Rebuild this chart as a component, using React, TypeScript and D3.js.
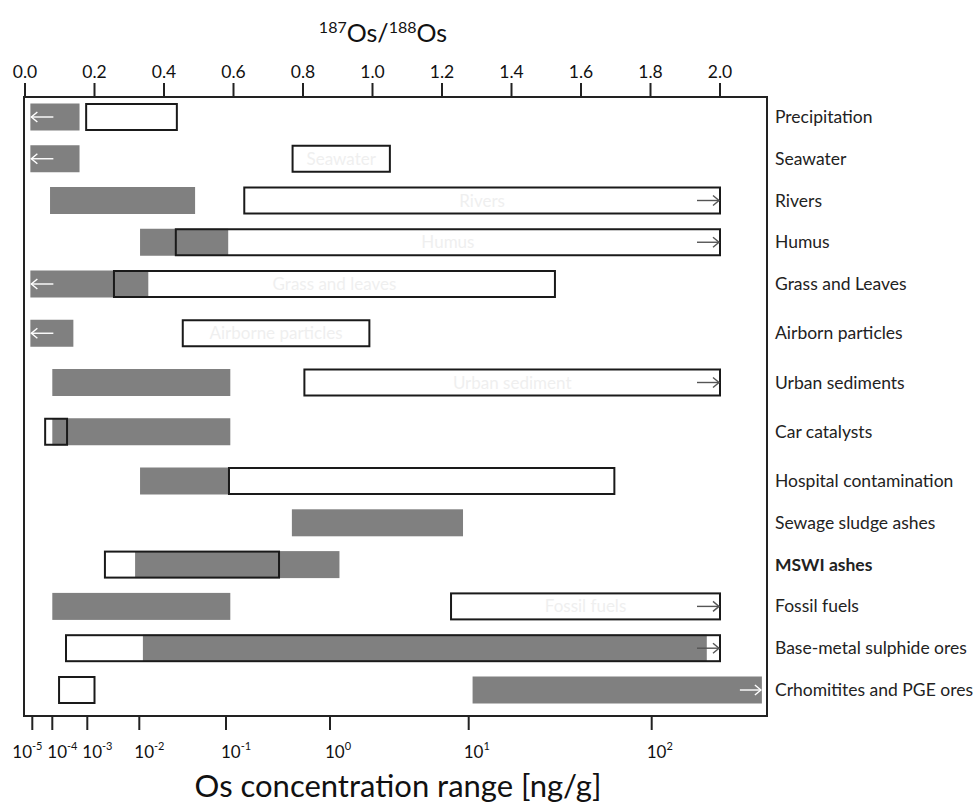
import React from "react";
import * as d3 from "d3";

const categories = [
  "Precipitation",
  "Seawater",
  "Rivers",
  "Humus",
  "Grass and Leaves",
  "Airborn particles",
  "Urban sediments",
  "Car catalysts",
  "Hospital contamination",
  "Sewage sludge ashes",
  "MSWI ashes",
  "Fossil fuels",
  "Base-metal sulphide ores",
  "Crhomitites and PGE ores",
];
const boldCategories = ["MSWI ashes"];

// Os concentration range [ng/g] (grey bars)
const concLow = [8e-6, 8e-6, 7.7e-5, 0.0102, 8e-6, 8e-6, 1e-4, 1e-4, 0.0102, 0.43, 0.0083, 1e-4, 0.011, 10.5];
const concHigh = [6e-4, 6e-4, 0.044, 0.105, 0.0127, 4e-4, 0.11, 0.11, 0.105, 9.1, 1.17, 0.11, 200, 400];
const concArrow = ["left", "left", "", "", "left", "left", "", "", "", "", "", "", "", "right"];

// 187Os/188Os ranges (open boxes)
const ratioLow = [0.176, 0.77, 0.631, 0.434, 0.256, 0.454, 0.804, 0.058, 0.587, null, 0.23, 1.226, 0.118, 0.098];
const ratioHigh = [0.437, 1.05, 2.0, 2.0, 1.525, 0.991, 2.0, 0.121, 1.696, null, 0.731, 2.0, 2.0, 0.2];
const ratioArrow = ["", "", "right", "right", "", "", "right", "", "", "", "", "right", "right", ""];
const ratioInnerLabel = ["", "Seawater", "Rivers", "Humus", "Grass and leaves", "Airborne particles", "Urban sediment", "", "", "", "", "Fossil fuels", "", ""];

const ratioTicks = [0, 0.2, 0.4, 0.6, 0.8, 1.0, 1.2, 1.4, 1.6, 1.8, 2.0];
const concTickExponents = [-5, -4, -3, -2, -1, 0, 1, 2];

const FONT = "Lato, 'Open Sans', sans-serif";

export default function App() {
  const W = 978;
  const H = 805;
  const frame = { left: 24, right: 767, top: 97, bottom: 716 };

  const ratioX = d3.scaleLinear().domain([0, 2]).range([25, 720]);
  // hand-drawn non-uniform log axis: piecewise linear in log10 space
  const expX = d3
    .scaleLinear()
    .domain(concTickExponents)
    .range([32.3, 52.3, 87.3, 139.3, 226, 330, 468.7, 651.7]);
  const concX = (v: number) => expX(Math.log10(v));
  const rowY = d3.scaleLinear().domain([0, 4, 8, 13]).range([117, 284, 481, 690]);

  const barH = 27;
  const boxH = 26;

  // bottom tick labels: start just left of the tick, pushed left when they would collide
  const labelW = 33;
  const labelStarts: number[] = concTickExponents.map((e) => expX(e) - 5);
  for (let i = labelStarts.length - 2; i >= 0; i--) {
    const maxStart = labelStarts[i + 1] - labelW - 2;
    if (labelStarts[i] > maxStart) labelStarts[i] = maxStart;
  }

  const arrow = (x1: number, x2: number, y: number, dir: string, color: string, key: string) => {
    const tip = dir === "right" ? x2 : x1;
    const s = dir === "right" ? -1 : 1;
    return (
      <g key={key} stroke={color} strokeWidth={1.4} fill="none">
        <line x1={x1} x2={x2} y1={y} y2={y} />
        <path d={`M${tip + s * 6},${y - 5} L${tip},${y} L${tip + s * 6},${y + 5}`} />
      </g>
    );
  };

  return (
    <svg
      width={W}
      height={H}
      style={{ position: "absolute", left: 0, top: 0, background: "#fff" }}
      fontFamily={FONT}
    >
      {/* top title */}
      <text x={383} y={42} textAnchor="middle" fontSize={25} fill="#111">
        <tspan fontSize={16} dy={-9}>187</tspan>
        <tspan dy={9}>Os/</tspan>
        <tspan fontSize={16} dy={-9}>188</tspan>
        <tspan dy={9}>Os</tspan>
      </text>

      {/* top axis */}
      {ratioTicks.map((t) => (
        <g key={"rt" + t}>
          <line x1={ratioX(t)} x2={ratioX(t)} y1={frame.top - 14} y2={frame.top} stroke="#222" strokeWidth={2} />
          <text x={ratioX(t)} y={78} textAnchor="middle" fontSize={17.5} fill="#111">
            {d3.format(".1f")(t)}
          </text>
        </g>
      ))}

      {/* grey concentration bars */}
      {categories.map((c, i) => {
        const x1 = concX(concLow[i]);
        const x2 = concX(concHigh[i]);
        const y = rowY(i);
        return (
          <g key={"g" + c}>
            <rect x={x1} y={y - barH / 2} width={x2 - x1} height={barH} fill="#808080" />
            {concArrow[i] === "left" && arrow(x1 + 1, x1 + 23, y, "left", "#fff", "la" + i)}
            {concArrow[i] === "right" && arrow(x2 - 22, x2 - 1, y, "right", "#fff", "ra" + i)}
          </g>
        );
      })}

      {/* open isotope-ratio boxes */}
      {categories.map((c, i) => {
        if (ratioLow[i] == null || ratioHigh[i] == null) return null;
        const x1 = ratioX(ratioLow[i] as number);
        const x2 = ratioX(ratioHigh[i] as number);
        const y = rowY(i);
        return (
          <g key={"b" + c}>
            <rect x={x1} y={y - boxH / 2} width={x2 - x1} height={boxH} fill="none" stroke="#1a1a1a" strokeWidth={2} />
            {ratioInnerLabel[i] && (
              <text x={(x1 + x2) / 2} y={y + 6} textAnchor="middle" fontSize={17} fill="#efefef">
                {ratioInnerLabel[i]}
              </text>
            )}
            {ratioArrow[i] === "right" && arrow(x2 - 23, x2 - 1, y, "right", "#555", "rb" + i)}
          </g>
        );
      })}

      {/* frame */}
      <rect
        x={frame.left}
        y={frame.top}
        width={frame.right - frame.left}
        height={frame.bottom - frame.top}
        fill="none"
        stroke="#222"
        strokeWidth={2}
      />

      {/* category labels */}
      {categories.map((c, i) => (
        <text
          key={"l" + c}
          x={775}
          y={rowY(i) + 6}
          fontSize={17.5}
          fill="#222"
          fontWeight={boldCategories.includes(c) ? "bold" : "normal"}
        >
          {c}
        </text>
      ))}

      {/* bottom axis */}
      {concTickExponents.map((e, i) => (
        <g key={"ct" + e}>
          <line x1={expX(e)} x2={expX(e)} y1={frame.bottom} y2={frame.bottom + 14} stroke="#222" strokeWidth={2} />
          <text x={labelStarts[i]} y={758} textAnchor="start" fontSize={17} fill="#111">
            <tspan>10</tspan>
            <tspan fontSize={11} dy={-8}>{e}</tspan>
          </text>
        </g>
      ))}
      <text x={398} y={797} textAnchor="middle" fontSize={31} fill="#111">
        Os concentration range [ng/g]
      </text>
    </svg>
  );
}
